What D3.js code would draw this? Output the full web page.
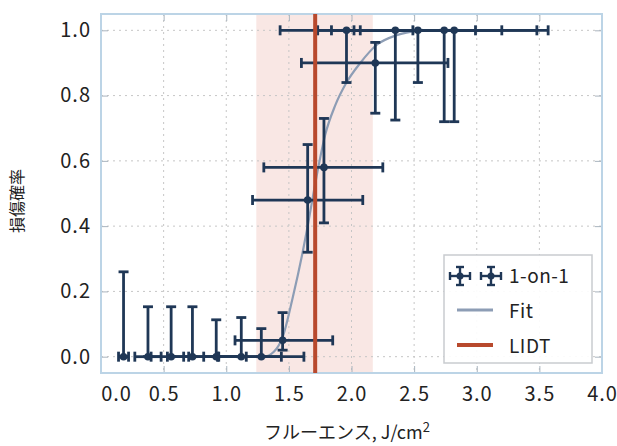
<!DOCTYPE html>
<html>
<head>
<meta charset="utf-8">
<script src="https://cdn.jsdelivr.net/npm/d3@7"></script>
<style>
  body { margin: 0; background: #fff; }
  text { font-family: "Noto Sans CJK JP", "Noto Sans", sans-serif; fill: #222; }
</style>
</head>
<body>
<svg id="chart" width="617" height="446"></svg>
<script>
// measured points (1-on-1 test)
const fluence     = [0.18, 0.375, 0.56, 0.73, 0.92, 1.12, 1.28, 1.45, 1.65, 1.78, 1.96, 2.19, 2.35, 2.53, 2.74, 2.82];
const fluenceLow  = [0.14, 0.27, 0.40, 0.53, 0.66, 0.82, 0.94, 1.07, 1.21, 1.30, 1.43, 1.60, 1.73, 1.84, 2.02, 2.07];
const fluenceHigh = [0.22, 0.48, 0.70, 0.93, 1.16, 1.44, 1.62, 1.85, 2.09, 2.25, 2.49, 2.77, 2.99, 3.20, 3.48, 3.57];
const prob        = [0, 0, 0, 0, 0, 0, 0, 0.05, 0.48, 0.58, 1.0, 0.90, 1.0, 1.0, 1.0, 1.0];
const probLow     = [0, 0, 0, 0, 0, 0, 0, 0.02, 0.32, 0.41, 0.84, 0.746, 0.725, 0.84, 0.72, 0.72];
const probHigh    = [0.26, 0.153, 0.153, 0.153, 0.113, 0.12, 0.086, 0.135, 0.65, 0.73, 1.0, 0.963, 1.0, 1.0, 1.0, 1.0];

// fit curve
const fitX = [1.25, 1.30, 1.38, 1.45, 1.53, 1.61, 1.65, 1.72, 1.79, 1.87, 1.96, 2.07, 2.20, 2.36, 2.55];
const fitY = [0, 0, 0.015, 0.06, 0.18, 0.32, 0.40, 0.55, 0.68, 0.77, 0.84, 0.90, 0.955, 0.985, 1.0];

const lidt = 1.71;
const lidtBand = [1.24, 2.17];

const xTicks = [0, 0.5, 1, 1.5, 2, 2.5, 3, 3.5, 4];
const yTicks = [0, 0.2, 0.4, 0.6, 0.8, 1.0];
const legendLabels = ["1-on-1", "Fit", "LIDT"];

const colors = {
  bar: "#1f3756",
  fit: "#8d9db5",
  lidt: "#b8492d",
  band: "#f9e7e4",
  frame: "#bcd4e6",
  grid: "#c6c6c6"
};

const svg = d3.select("#chart");
const plot = { left: 101, right: 602, top: 14, bottom: 373 };

const x = d3.scaleLinear().domain([0, 4]).range([plot.left, plot.right]);
const y = d3.scaleLinear().domain([-0.05, 1.05]).range([plot.bottom, plot.top]);

// LIDT uncertainty band
svg.append("rect")
  .attr("x", x(lidtBand[0]))
  .attr("y", plot.top)
  .attr("width", x(lidtBand[1]) - x(lidtBand[0]))
  .attr("height", plot.bottom - plot.top)
  .attr("fill", colors.band);

// grid
const grid = svg.append("g").attr("stroke", colors.grid).attr("stroke-dasharray", "2,4");
grid.selectAll("line.gx")
  .data(xTicks.slice(1, -1))
  .join("line")
  .attr("x1", d => x(d)).attr("x2", d => x(d))
  .attr("y1", plot.top).attr("y2", plot.bottom);
grid.selectAll("line.gy")
  .data(yTicks)
  .join("line")
  .attr("class", "gy")
  .attr("x1", plot.left).attr("x2", plot.right)
  .attr("y1", d => y(d)).attr("y2", d => y(d));

// axes with inward ticks
const xAxis = svg.append("g")
  .attr("transform", `translate(0,${plot.bottom})`)
  .call(d3.axisBottom(x).tickValues(xTicks).tickSize(-7).tickPadding(14).tickFormat(d3.format(".1f")));
const xAxisTop = svg.append("g")
  .attr("transform", `translate(0,${plot.top})`)
  .call(d3.axisTop(x).tickValues(xTicks).tickSize(-7).tickFormat(""));
const yAxis = svg.append("g")
  .attr("transform", `translate(${plot.left},0)`)
  .call(d3.axisLeft(y).tickValues(yTicks).tickSize(-7).tickPadding(10).tickFormat(d3.format(".1f")));
const yAxisRight = svg.append("g")
  .attr("transform", `translate(${plot.right},0)`)
  .call(d3.axisRight(y).tickValues(yTicks).tickSize(-7).tickFormat(""));

[xAxis, xAxisTop, yAxis, yAxisRight].forEach(a => {
  a.select(".domain").remove();
  a.selectAll(".tick line").attr("stroke", "#a9b4be");
});
[xAxis, yAxis].forEach(a => {
  a.selectAll("text")
    .attr("font-size", 20)
    .attr("letter-spacing", 1)
    .attr("fill", "#2a2a2a");
});
xAxis.selectAll(".tick text").filter(d => d === 0).attr("dx", 15);

// frame
svg.append("rect")
  .attr("x", plot.left).attr("y", plot.top)
  .attr("width", plot.right - plot.left).attr("height", plot.bottom - plot.top)
  .attr("fill", "none").attr("stroke", colors.frame).attr("stroke-width", 2);

// fit
svg.append("path")
  .datum(fitX.map((v, i) => [v, fitY[i]]))
  .attr("fill", "none")
  .attr("stroke", colors.fit)
  .attr("stroke-width", 2.2)
  .attr("d", d3.line().x(d => x(d[0])).y(d => y(d[1])).curve(d3.curveMonotoneX));

// error bars
const cap = 5;
const pts = fluence.map((f, i) => ({
  f, p: prob[i], fl: fluenceLow[i], fh: fluenceHigh[i], pl: probLow[i], ph: probHigh[i]
}));
const eb = svg.append("g").attr("stroke", colors.bar).attr("stroke-width", 2.8);
const g = eb.selectAll("g.pt").data(pts).join("g").attr("class", "pt");
g.append("line")
  .attr("x1", d => x(d.fl)).attr("x2", d => x(d.fh))
  .attr("y1", d => y(d.p)).attr("y2", d => y(d.p));
g.append("line")
  .attr("x1", d => x(d.f)).attr("x2", d => x(d.f))
  .attr("y1", d => y(d.pl)).attr("y2", d => y(d.ph));
g.selectAll("line.hcap")
  .data(d => [d.pl, d.ph].map(v => ({ f: d.f, v })))
  .join("line")
  .attr("x1", d => x(d.f) - cap).attr("x2", d => x(d.f) + cap)
  .attr("y1", d => y(d.v)).attr("y2", d => y(d.v));
g.selectAll("line.vcap")
  .data(d => [d.fl, d.fh].map(v => ({ p: d.p, v })))
  .join("line")
  .attr("class", "vcap")
  .attr("x1", d => x(d.v)).attr("x2", d => x(d.v))
  .attr("y1", d => y(d.p) - cap).attr("y2", d => y(d.p) + cap);
g.append("circle")
  .attr("cx", d => x(d.f)).attr("cy", d => y(d.p))
  .attr("r", 3.8).attr("fill", colors.bar).attr("stroke", "none");

// LIDT line
svg.append("line")
  .attr("x1", x(lidt)).attr("x2", x(lidt))
  .attr("y1", plot.top).attr("y2", plot.bottom)
  .attr("stroke", colors.lidt).attr("stroke-width", 4);

// legend
const lg = svg.append("g").attr("transform", "translate(444,255)");
lg.append("rect")
  .attr("width", 148).attr("height", 108)
  .attr("fill", "#fff").attr("fill-opacity", 0.92)
  .attr("stroke", "#c9cccf").attr("stroke-width", 1.5);
[16, 47].forEach(cx => {
  const s = lg.append("g").attr("stroke", colors.bar).attr("stroke-width", 2.4);
  s.append("line").attr("x1", cx - 10).attr("x2", cx + 10).attr("y1", 21).attr("y2", 21);
  s.append("line").attr("x1", cx).attr("x2", cx).attr("y1", 12).attr("y2", 30);
  s.append("line").attr("x1", cx - 4).attr("x2", cx + 4).attr("y1", 12).attr("y2", 12);
  s.append("line").attr("x1", cx - 4).attr("x2", cx + 4).attr("y1", 30).attr("y2", 30);
  s.append("line").attr("x1", cx - 10).attr("x2", cx - 10).attr("y1", 17).attr("y2", 25);
  s.append("line").attr("x1", cx + 10).attr("x2", cx + 10).attr("y1", 17).attr("y2", 25);
  s.append("circle").attr("cx", cx).attr("cy", 21).attr("r", 3.5).attr("fill", colors.bar).attr("stroke", "none");
});
lg.append("line").attr("x1", 13).attr("x2", 49).attr("y1", 55).attr("y2", 55)
  .attr("stroke", colors.fit).attr("stroke-width", 3);
lg.append("line").attr("x1", 13).attr("x2", 49).attr("y1", 90).attr("y2", 90)
  .attr("stroke", colors.lidt).attr("stroke-width", 4);
lg.selectAll("text.lab")
  .data(legendLabels)
  .join("text")
  .attr("x", 65)
  .attr("y", (d, i) => 21 + i * 35)
  .attr("dy", "0.36em")
  .attr("font-size", 19)
  .attr("letter-spacing", 0.5)
  .text(d => d);

// axis titles
svg.append("text")
  .attr("transform", "translate(17,201) rotate(-90)")
  .attr("text-anchor", "middle")
  .attr("dy", "0.35em")
  .attr("font-size", 16)
  .text("損傷確率");

const xt = svg.append("text")
  .attr("x", 347).attr("y", 439)
  .attr("text-anchor", "middle")
  .attr("font-size", 18);
xt.append("tspan").text("フルーエンス, J/cm");
xt.append("tspan").attr("dy", -7).attr("font-size", 13).text("2");
</script>
</body>
</html>
